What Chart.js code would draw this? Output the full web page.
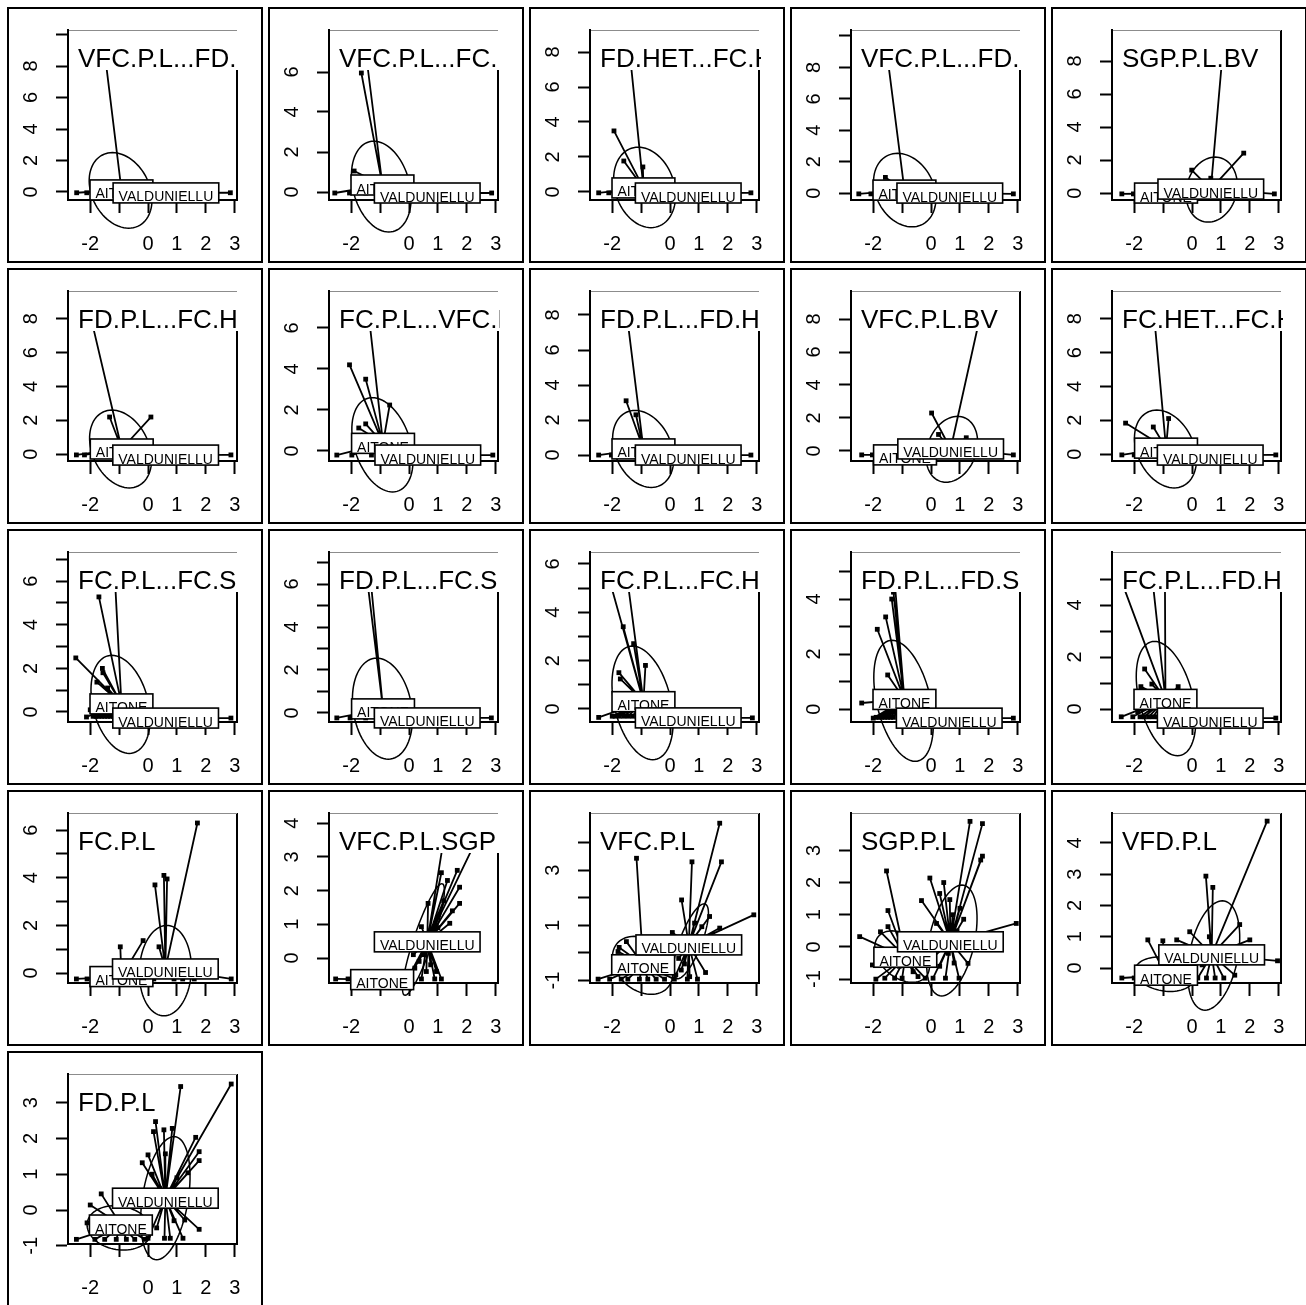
<!DOCTYPE html>
<html>
<head>
<meta charset="utf-8">
<script src="https://cdn.jsdelivr.net/npm/chart.js@4/dist/chart.umd.min.js"></script>
<style>
  html, body { margin: 0; padding: 0; background: #fff; overflow: hidden; }
  #wrap { position: relative; width: 1306px; height: 1305px; }
  #wrap canvas { position: absolute; }
</style>
</head>
<body>
<div id="wrap"></div>
<script>
// ---- data ----
const groupNames = ["AITONE", "VALDUNIELLU"];

const titles = [
  "VFC.P.L...FD.", "VFC.P.L...FC.", "FD.HET...FC.H", "VFC.P.L...FD.", "SGP.P.L.BV",
  "FD.P.L...FC.H", "FC.P.L...VFC.H", "FD.P.L...FD.H", "VFC.P.L.BV", "FC.HET...FC.H",
  "FC.P.L...FC.S", "FD.P.L...FC.S", "FC.P.L...FC.H", "FD.P.L...FD.S", "FC.P.L...FD.H",
  "FC.P.L", "VFC.P.L.SGP", "VFC.P.L", "SGP.P.L", "VFD.P.L",
  "FD.P.L"
];

const xRange = [-2.77, 3.08];
const xTicks = [-2, -1, 0, 1, 2, 3];
const xTickLabels = ["-2", "", "0", "1", "2", "3"];

const yRanges = [
  [-0.51, 10.29], [-0.4, 8.1], [-0.46, 9.26], [-0.44, 10.38], [-0.42, 9.88],
  [-0.41, 9.64], [-0.49, 7.8], [-0.34, 9.37], [-0.61, 9.7], [-0.41, 9.64],
  [-0.46, 7.34], [-0.42, 7.49], [-0.54, 6.49], [-0.47, 5.71], [-0.5, 6.04],
  [-0.42, 6.72], [-0.74, 4.3], [-1.09, 5.07], [-1.12, 4.16], [-0.48, 4.96],
  [-0.95, 3.8]
];

const yTicks = [
  [0, 2, 4, 6, 8, 10], [0, 2, 4, 6], [0, 2, 4, 6, 8], [0, 2, 4, 6, 8, 10], [0, 2, 4, 6, 8],
  [0, 2, 4, 6, 8], [0, 2, 4, 6], [0, 2, 4, 6, 8], [0, 2, 4, 6, 8], [0, 2, 4, 6, 8],
  [0, 1, 2, 3, 4, 5, 6, 7], [0, 1, 2, 3, 4, 5, 6, 7], [0, 1, 2, 3, 4, 5, 6], [0, 1, 2, 3, 4, 5], [0, 1, 2, 3, 4, 5],
  [0, 1, 2, 3, 4, 5, 6], [0, 1, 2, 3, 4], [-1, 0, 1, 2, 3, 4], [-1, 0, 1, 2, 3], [0, 1, 2, 3, 4],
  [-1, 0, 1, 2, 3]
];

const yTickLabels = [
  ["0", "2", "4", "6", "8", ""], ["0", "2", "4", "6"], ["0", "2", "4", "6", "8"], ["0", "2", "4", "6", "8", ""], ["0", "2", "4", "6", "8"],
  ["0", "2", "4", "6", "8"], ["0", "2", "4", "6"], ["0", "2", "4", "6", "8"], ["0", "2", "4", "6", "8"], ["0", "2", "4", "6", "8"],
  ["0", "", "2", "", "4", "", "6", ""], ["0", "", "2", "", "4", "", "6", ""], ["0", "", "2", "", "4", "", "6"], ["0", "", "2", "", "4", ""], ["0", "", "2", "", "4", ""],
  ["0", "", "2", "", "4", "", "6"], ["0", "1", "2", "3", "4"], ["-1", "", "1", "", "3", ""], ["-1", "0", "1", "2", "3"], ["0", "1", "2", "3", "4"],
  ["-1", "0", "1", "2", "3"]
];

const aitoneCentroid = [
  [-0.92, 0.13], [-0.92, 0.35], [-0.92, 0.23], [-0.92, 0.19], [-0.9, 0.0],
  [-0.91, 0.3], [-0.9, 0.37], [-0.92, 0.35], [-0.9, -0.24], [-0.9, 0.35],
  [-0.92, 0.37], [-0.9, 0.19], [-0.92, 0.3], [-0.92, 0.35], [-0.92, 0.37],
  [-0.92, -0.15], [-0.93, -0.64], [-0.93, -0.43], [-0.89, -0.32], [-0.9, -0.23],
  [-0.94, -0.42]
];

const valdCentroid = [
  [0.62, -0.06], [0.63, -0.05], [0.63, -0.06], [0.65, 0.0], [0.65, 0.24],
  [0.61, -0.06], [0.65, -0.2], [0.63, 0.0], [0.68, 0.12], [0.63, -0.06],
  [0.61, -0.28], [0.63, -0.23], [0.63, -0.37], [0.63, -0.33], [0.63, -0.35],
  [0.6, 0.17], [0.63, 0.48], [0.65, 0.29], [0.67, 0.16], [0.68, 0.42],
  [0.6, 0.33]
];

const aitonePts = [
  [[-2.47, -0.05], [-2.12, -0.05], [-1.55, 9.6], [-1.6, -0.05], [-1.2, -0.05], [-0.7, -0.05], [-0.3, -0.05], [0.05, -0.05]],
  [[-2.57, -0.05], [-2.06, -0.05], [-1.65, 5.95], [-1.55, 7.6], [-1.9, 1.05], [-1.5, -0.05], [-1.1, -0.05], [-0.6, -0.05], [-0.2, -0.05]],
  [[-2.47, -0.05], [-2.12, -0.05], [-1.94, 3.49], [-1.6, 1.77], [-0.94, 1.43], [-1.42, 8.4], [-1.5, -0.05], [-1.0, -0.05], [-0.4, -0.05]],
  [[-2.5, -0.05], [-2.08, -0.05], [-1.58, 1.0], [-1.58, 9.7], [-1.4, -0.05], [-0.9, -0.05], [-0.3, -0.05]],
  [[-2.43, -0.05], [-2.03, -0.05], [-1.5, -0.05], [-1.0, -0.05], [-0.4, -0.05]],
  [[-2.48, -0.05], [-2.2, -0.05], [-1.33, 2.19], [0.1, 2.19], [-2.12, 9.1], [-1.6, -0.05], [-1.1, -0.05], [-0.5, -0.05]],
  [[-2.5, -0.2], [-1.98, -0.2], [-2.06, 4.2], [-1.5, 3.5], [-1.74, 1.12], [-1.5, 1.32], [-0.67, 2.24], [-1.43, 7.1], [-1.3, -0.2], [-0.8, -0.2], [-0.3, -0.2]],
  [[-2.47, 0], [-2.03, 0], [-1.52, 3.1], [-1.18, 2.3], [-1.56, 8.9], [-1.5, 0], [-1.0, 0], [-0.4, 0]],
  [[-2.4, -0.24], [-2.03, -0.24], [-1.5, -0.24], [-1.0, -0.24], [-0.4, -0.24]],
  [[-2.43, -0.05], [-2.0, -0.05], [-2.3, 1.83], [-1.34, 1.6], [-0.81, 2.1], [-1.88, 0], [-1.36, 9.1], [-1.4, -0.05], [-0.9, -0.05], [-0.3, -0.05]],
  [[-2.5, 2.48], [-1.7, 5.28], [-1.58, 2.0], [-1.56, 1.8], [-1.77, 1.37], [-1.4, 1.1], [-1.18, 7.0], [-2.13, -0.23], [-2.0, 0.1],
   [-1.9, -0.2], [-1.8, -0.2], [-1.7, -0.2], [-1.6, -0.2], [-1.5, -0.2], [-1.4, -0.2], [-1.3, -0.2], [-1.2, -0.2], [-0.8, -0.2], [-0.3, -0.2]],
  [[-2.5, -0.23], [-2.04, -0.23], [-1.53, 7.1], [-1.4, 7.2], [-1.5, -0.23], [-1.0, -0.23], [-0.4, -0.23]],
  [[-2.47, -0.35], [-2.24, 5.95], [-1.54, 5.95], [-1.62, 3.4], [-1.26, 2.7], [-1.77, 1.5], [-1.72, 1.24], [-0.85, 1.8],
   [-2.0, -0.3], [-1.9, -0.3], [-1.75, -0.3], [-1.6, -0.3], [-1.45, -0.3], [-1.3, -0.3], [-1.15, -0.3], [-0.7, -0.3], [-0.2, -0.3]],
  [[-2.4, 0.22], [-2.0, -0.33], [-1.86, 2.9], [-1.57, 3.35], [-1.36, 4.0], [-1.5, 1.24], [-1.3, 4.25], [-1.24, 4.4],
   [-1.9, -0.3], [-1.8, -0.3], [-1.7, -0.3], [-1.6, -0.3], [-1.5, -0.3], [-1.4, -0.3], [-1.3, -0.3], [-0.8, -0.3], [-0.3, -0.3]],
  [[-1.88, -0.1], [-1.64, 1.54], [-1.77, 0.86], [-1.39, 0.96], [-0.48, 0.86], [-2.67, 5.6], [-1.43, 5.6], [-0.94, 5.6],
   [-2.45, -0.3], [-2.05, -0.3], [-1.8, -0.3], [-1.65, -0.3], [-1.5, -0.3], [-1.35, -0.3], [-1.2, -0.3], [-0.7, -0.3], [-0.2, -0.3]],
  [[-2.48, -0.25], [-2.11, -0.25], [-0.96, 1.1], [-0.17, 1.36], [-1.7, -0.25], [-1.3, -0.25], [-0.8, -0.25], [-0.3, -0.25]],
  [[-2.54, -0.62], [-2.11, -0.62], [-1.6, -0.62], [-1.2, -0.62], [-0.8, -0.62], [-0.4, -0.62], [-0.1, -0.62]],
  [[-2.49, -0.95], [-2.09, -0.95], [-1.69, -0.95], [-1.46, -0.95], [-1.06, -0.95], [-0.77, -0.95], [-0.48, -0.95], [-0.19, -0.95], [0.15, -0.95],
   [-1.16, 3.43], [-1.51, 0.41], [-1.76, 0.2], [-1.8, 0.05], [-1.3, -0.6], [-0.6, -0.7]],
  [[-2.47, 0.32], [-2.03, -0.56], [-1.91, -1.0], [-1.54, 2.36], [-1.49, 1.13], [-1.49, 0.63], [-1.75, 0.47], [-1.26, -0.97],
   [-0.62, -0.77], [-0.45, -0.92], [-1.6, -0.97], [-1.0, -0.97], [-0.2, -0.97], [-0.8, -0.5], [-1.1, -0.6]],
  [[-2.43, -0.32], [-2.0, -0.32], [-1.53, 0.9], [-1.01, 0.87], [-1.7, -0.32], [-1.3, -0.32], [-0.9, -0.32], [-0.5, -0.32], [-0.1, -0.32]],
  [[-2.48, -0.82], [-2.11, -0.36], [-2.0, 0.14], [-1.62, 0.45], [-1.84, -0.82], [-1.5, -0.82], [-1.1, -0.82], [-0.75, -0.82],
   [-0.46, -0.82], [-0.12, -0.82], [-1.3, -0.5], [-0.6, -0.6]]
];

const valdPts = [
  [[2.85, -0.05], [-0.6, -0.05], [0.2, -0.05], [0.9, -0.05], [1.5, -0.05], [2.0, -0.05]],
  [[2.86, -0.05], [-0.5, -0.05], [0.3, -0.05], [1.0, -0.05], [1.8, -0.05]],
  [[2.8, -0.05], [-0.5, -0.05], [0.4, -0.05], [1.2, -0.05], [1.9, -0.05]],
  [[2.85, -0.05], [-0.4, -0.05], [0.5, -0.05], [1.3, -0.05]],
  [[-0.01, 1.39], [1.79, 2.42], [1.1, 9.3], [0.65, 0.9], [2.85, -0.05], [-0.3, -0.05], [0.4, -0.05], [1.0, -0.05], [1.6, -0.05]],
  [[2.87, -0.05], [-0.4, -0.05], [0.5, -0.05], [1.3, -0.05]],
  [[2.9, -0.2], [-0.4, -0.2], [0.5, -0.2], [1.4, -0.2]],
  [[2.8, 0], [-0.4, 0], [0.5, 0], [1.3, 0]],
  [[0.02, 2.3], [0.26, 1.0], [1.22, 0.8], [1.83, 9.2], [2.85, -0.24], [-0.3, -0.24], [0.4, -0.24], [1.0, -0.24], [1.6, -0.24]],
  [[2.9, -0.05], [-0.4, -0.05], [0.5, -0.05], [1.3, -0.05]],
  [[2.87, -0.28], [-0.4, -0.28], [0.5, -0.28], [1.3, -0.28]],
  [[2.85, -0.23], [-0.4, -0.23], [0.5, -0.23], [1.3, -0.23]],
  [[2.85, -0.37], [-0.4, -0.37], [0.5, -0.37], [1.3, -0.37]],
  [[2.85, -0.33], [-0.4, -0.33], [0.5, -0.33], [1.3, -0.33]],
  [[2.9, -0.35], [-0.4, -0.35], [0.5, -0.35], [1.3, -0.35]],
  [[0.24, 3.7], [0.55, 4.1], [0.66, 3.95], [0.38, 1.1], [1.71, 6.3], [2.88, -0.25], [1.6, -0.25], [-0.5, -0.25], [0.2, -0.25], [0.9, -0.25], [1.2, -0.25]],
  [[1.12, 2.53], [1.67, 2.6], [1.33, 2.3], [1.75, 2.1], [1.75, 1.62], [0.66, 1.62], [0.43, 0.93], [1.41, 1.03], [1.28, 3.94], [2.5, 3.8],
   [0.89, -0.62], [1.12, -0.62], [0.43, -0.62], [0.2, -0.3], [0.35, -0.1], [0.5, 0.1], [0.6, -0.4], [0.75, -0.2], [0.3, 0.4],
   [0.15, 0.1], [0.7, 0.3], [0.95, -0.4], [0.05, -0.45], [1.5, 1.4], [1.2, 1.7], [1.0, 0.9]],
  [[1.72, 4.7], [0.76, 3.3], [1.78, 3.3], [0.4, 1.92], [2.9, 1.38], [1.37, 1.32], [1.72, 0.9], [0.85, 1.08], [0.08, 0.74], [1.23, -0.71],
   [0.68, -0.86], [0.39, -0.62], [0.2, -0.8], [0.5, -0.4], [0.3, -0.2], [0.9, 0.6], [1.1, 0.95], [0.6, -0.95], [0.95, -0.95]],
  [[1.78, 3.83], [1.78, 2.82], [1.72, 2.7], [-0.04, 2.14], [0.44, 2.0], [-0.33, 1.44], [0.3, 1.66], [0.65, 1.47], [0.19, 0.73], [2.95, 0.73],
   [1.13, 0.86], [1.28, -0.51], [0.97, -0.97], [0.07, -0.97], [1.35, 3.9], [0.5, -0.97], [0.3, -0.6], [0.8, -0.5], [0.6, -0.2],
   [0.4, 0.2], [0.9, 0.5], [0.1, -0.3], [0.75, 1.0], [1.0, 1.2]],
  [[2.6, 4.7], [0.48, 2.94], [0.72, 2.58], [-0.08, 1.16], [-0.53, 0.9], [2.96, 0.23], [1.65, 1.39], [2.0, 0.9], [1.48, -0.23],
   [0.2, -0.32], [0.5, -0.32], [0.8, -0.32], [1.1, -0.32], [0.35, 0.1], [0.9, 0.2], [1.2, 0.6], [0.6, 1.0]],
  [[2.88, 3.52], [1.13, 3.45], [0.26, 2.47], [0.55, 2.24], [0.84, 2.28], [0.19, 2.19], [0.0, 1.54], [-0.2, 1.32], [0.6, 1.57],
   [1.65, 2.03], [1.77, 1.63], [1.77, 1.38], [1.38, 1.04], [1.27, -0.28], [1.77, -0.54], [0.77, -0.79], [1.21, -0.79], [0.57, -0.79],
   [0.14, 1.0], [0.0, -0.79], [0.3, -0.5], [0.9, -0.3], [1.0, 0.9], [0.4, 0.6]]
];

// ellipses: [cx, cy, ux, uy, vx, vy] (centre and two conjugate half-axes), null when flat
const aitoneEllipse = [
  [-0.95, 0.1, 1.05, 0, -0.28, 2.4], [-0.96, 0.27, 1.0, 0, -0.26, 2.27], [-0.88, 0.26, 1.05, 0, -0.22, 2.3],
  [-0.91, 0.19, 1.05, 0, -0.25, 2.34], null,
  [-0.95, 0.3, 1.03, 0, -0.3, 2.3], [-0.92, 0.3, 1.0, 0, -0.35, 2.3], [-0.93, 0.35, 1.02, 0, -0.28, 2.2],
  null, [-0.92, 0.3, 1.03, 0, -0.3, 2.3],
  [-0.95, 0.35, 0.98, 0, -0.3, 2.25], [-0.92, 0.2, 1.02, 0, -0.2, 2.35], [-0.95, 0.25, 1.0, 0, -0.35, 2.35],
  [-0.95, 0.3, 0.95, 0, -0.4, 2.2], [-0.9, 0.4, 0.95, 0, -0.4, 2.2],
  null, null, [-0.95, -0.45, 1.0, 0, -0.3, 1.05], [-1.0, -0.3, 0.88, 0, -0.35, 0.8], [-0.95, -0.2, 1.0, 0, -0.2, 0.55],
  [-1.0, -0.5, 1.1, 0, -0.15, 0.62]
];

const valdEllipse = [
  null, null, null, null, [0.68, 0.21, 0.88, 0, 0.12, 1.97],
  null, null, null, [0.72, 0.1, 0.87, 0, 0.2, 2.0], null,
  null, null, null, null, null,
  [0.6, 0.1, 0.9, 0, 0.05, 1.9], [0.5, 0.55, 0.66, 1.65, 0.3, -0.12], [0.72, 0.42, 0.5, 1.35, 0.35, -0.15],
  [0.72, 0.2, 0.8, 0, 0.35, 1.72], [0.75, 0.4, 0.85, 0, 0.3, 1.75],
  [0.6, 0.33, 0.8, 0, 0.3, 1.72]
];

// ---- drawing ----
const FONT = '"Liberation Sans", Arial, Helvetica, sans-serif';
const SIZE = 256;

function strokeLine(ctx, x1, y1, x2, y2) {
  ctx.beginPath();
  ctx.moveTo(x1, y1);
  ctx.lineTo(x2, y2);
  ctx.stroke();
}

function drawEllipse(ctx, xs, ys, e) {
  const [cx, cy, ux, uy, vx, vy] = e;
  ctx.beginPath();
  for (let k = 0; k <= 80; k++) {
    const t = (k / 80) * Math.PI * 2;
    const px = xs.getPixelForValue(cx + ux * Math.cos(t) + vx * Math.sin(t));
    const py = ys.getPixelForValue(cy + uy * Math.cos(t) + vy * Math.sin(t));
    if (k === 0) ctx.moveTo(px, py); else ctx.lineTo(px, py);
  }
  ctx.stroke();
}

const panelDecor = {
  id: "panelDecor",
  beforeDatasetsDraw(chart) {
    const i = chart.options.plugins.panelDecor.idx;
    const { ctx, scales: { x, y } } = chart;
    ctx.save();
    ctx.strokeStyle = "#000";
    ctx.lineWidth = 1.5;
    [aitoneEllipse[i], valdEllipse[i]].forEach(e => { if (e) drawEllipse(ctx, x, y, e); });

    // stars: each point joined to its group centre
    ctx.lineWidth = 1.8;
    [[aitonePts[i], aitoneCentroid[i]], [valdPts[i], valdCentroid[i]]].forEach(([pts, c]) => {
      const cx = x.getPixelForValue(c[0]);
      const cy = y.getPixelForValue(c[1]);
      ctx.beginPath();
      pts.forEach(p => {
        ctx.moveTo(x.getPixelForValue(p[0]), y.getPixelForValue(p[1]));
        ctx.lineTo(cx, cy);
      });
      ctx.stroke();
    });
    ctx.restore();
  },
  afterDatasetsDraw(chart) {
    const i = chart.options.plugins.panelDecor.idx;
    const { ctx, chartArea: a, scales: { x, y } } = chart;
    ctx.save();
    ctx.strokeStyle = "#000";
    ctx.lineWidth = 2;
    strokeLine(ctx, a.right, a.top, a.right, a.bottom);

    // group labels in white boxes
    ctx.font = "14px " + FONT;
    ctx.textAlign = "center";
    ctx.textBaseline = "alphabetic";
    [[groupNames[0], aitoneCentroid[i]], [groupNames[1], valdCentroid[i]]].forEach(([name, c]) => {
      const px = x.getPixelForValue(c[0]);
      const py = y.getPixelForValue(c[1]);
      const w = ctx.measureText(name).width + 11;
      ctx.fillStyle = "#fff";
      ctx.fillRect(px - w / 2, py - 10, w, 20);
      ctx.lineWidth = 1.6;
      ctx.strokeRect(px - w / 2, py - 10, w, 20);
      ctx.fillStyle = "#000";
      ctx.fillText(name, px, py + 8.5);
    });

    // panel title
    ctx.font = "26px " + FONT;
    ctx.textAlign = "left";
    const tw = ctx.measureText(titles[i]).width;
    ctx.save();
    ctx.beginPath();
    ctx.rect(a.left, a.top - 1, a.right - a.left + 2, 42);
    ctx.clip();
    ctx.fillStyle = "#fff";
    ctx.fillRect(a.left, a.top, tw + 14, 40);
    ctx.fillStyle = "#000";
    ctx.fillText(titles[i], a.left + 10, a.top + 37);
    ctx.restore();

    ctx.strokeStyle = "#8c8c8c";
    ctx.lineWidth = 1;
    strokeLine(ctx, a.left, a.top + 0.5, a.right, a.top + 0.5);
    ctx.strokeStyle = "#000";
    ctx.lineWidth = 2;
    strokeLine(ctx, a.left, a.top, a.left, a.bottom);

    // y tick labels, written along the axis
    ctx.font = "20px " + FONT;
    ctx.fillStyle = "#000";
    ctx.textAlign = "center";
    y.ticks.forEach((t, k) => {
      const lab = yTickLabels[i][k];
      if (!lab) return;
      ctx.save();
      ctx.translate(a.left - 31, y.getPixelForValue(t.value));
      ctx.rotate(-Math.PI / 2);
      ctx.fillText(lab, 0, 0);
      ctx.restore();
    });

    // figure box
    ctx.lineWidth = 2;
    ctx.strokeRect(1, 1, chart.width - 2, chart.height - 2);
    ctx.restore();
  }
};

function makePanel(i) {
  const col = i % 5;
  const row = Math.floor(i / 5);
  const canvas = document.createElement("canvas");
  canvas.width = SIZE;
  canvas.height = SIZE;
  canvas.style.width = SIZE + "px";
  canvas.style.height = SIZE + "px";
  canvas.style.left = (7 + 261 * col) + "px";
  canvas.style.top = (7 + 261 * row) + "px";
  document.getElementById("wrap").appendChild(canvas);

  const pointStyle = { pointStyle: "rect", pointRadius: 3.4, backgroundColor: "#000", borderColor: "#000", borderWidth: 0 };
  return new Chart(canvas, {
    type: "scatter",
    data: {
      datasets: [
        { label: groupNames[0], data: aitonePts[i].map(p => ({ x: p[0], y: p[1] })), ...pointStyle },
        { label: groupNames[1], data: valdPts[i].map(p => ({ x: p[0], y: p[1] })), ...pointStyle }
      ]
    },
    options: {
      responsive: false,
      animation: false,
      devicePixelRatio: 1,
      layout: { padding: { left: 1, top: 23, right: 26, bottom: 0 } },
      plugins: {
        legend: { display: false },
        tooltip: { enabled: false },
        panelDecor: { idx: i }
      },
      scales: {
        x: {
          type: "linear",
          min: xRange[0],
          max: xRange[1],
          afterBuildTicks: s => { s.ticks = xTicks.map(v => ({ value: v })); },
          afterFit: s => { s.height = 63; },
          border: { display: true, color: "#000", width: 2 },
          grid: { drawOnChartArea: false, drawTicks: true, tickLength: 13, tickWidth: 2, tickColor: "#000", color: "#000" },
          ticks: {
            color: "#000",
            font: { family: FONT, size: 20 },
            padding: 19,
            autoSkip: false,
            maxRotation: 0,
            callback: v => { const k = xTicks.indexOf(v); return k >= 0 ? xTickLabels[k] : ""; }
          }
        },
        y: {
          type: "linear",
          min: yRanges[i][0],
          max: yRanges[i][1],
          afterBuildTicks: s => { s.ticks = yTicks[i].map(v => ({ value: v })); },
          afterFit: s => { s.width = 60; },
          border: { display: true, color: "#000", width: 2 },
          grid: { drawOnChartArea: false, drawTicks: true, tickLength: 12, tickWidth: 2, tickColor: "#000", color: "#000" },
          ticks: { autoSkip: false, callback: () => "" }
        }
      }
    },
    plugins: [panelDecor]
  });
}

document.addEventListener("DOMContentLoaded", () => {
  titles.forEach((_, i) => makePanel(i));
});
</script>
</body>
</html>
